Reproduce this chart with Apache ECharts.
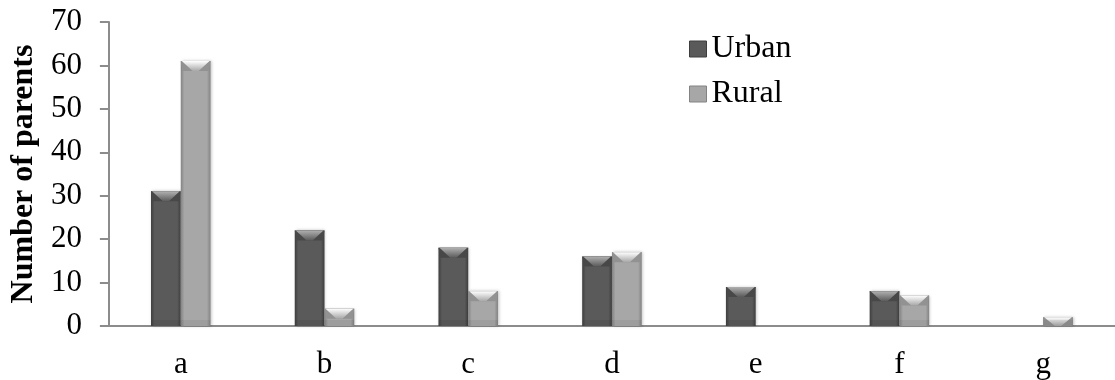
<!DOCTYPE html>
<html>
<head>
<meta charset="utf-8">
<script src="https://cdn.jsdelivr.net/npm/echarts@6/dist/echarts.min.js"></script>
<style>
  html, body { margin: 0; padding: 0; background: #ffffff; }
  #chart { width: 1115px; height: 380px; }
</style>
</head>
<body>
<div id="chart"></div>
<script>
// Parents per response category, by area
const categories = ['a', 'b', 'c', 'd', 'e', 'f', 'g'];
const urbanValues = [31, 22, 18, 16, 9, 8, 0];
const ruralValues = [61, 4, 8, 17, 0, 7, 2];
const yTicks = { min: 0, max: 70, interval: 10 };

const FONT = '"Liberation Serif", "Times New Roman", serif';

// Palette for the bevelled bars: body edge / body centre / top-face light
const shades = {
  Urban: { edge: '#3e3e3e', mid: '#5a5a5a', light: '#b0b0b0', side: '#484848' },
  Rural: { edge: '#838383', mid: '#a7a7a7', light: '#ffffff', side: '#929292' }
};

function bevelBar(side, pal) {
  return function (params, api) {
    const val = api.value(1);
    if (!val) return null;
    const cat = api.value(0);
    const top = api.coord([cat, val]);
    const base = api.coord([cat, 0]);
    const band = api.size([1, 0])[0];
    const w = band * 0.207;
    const x = side < 0 ? top[0] - w : top[0];
    const y = top[1];
    const h = base[1] - top[1];
    const b = Math.min(10, h);
    const cx = x + w / 2;
    const children = [
      {
        type: 'rect',
        shape: { x: x, y: y, width: w, height: h },
        style: {
          fill: new echarts.graphic.LinearGradient(0, 0, 1, 0, [
            { offset: 0, color: pal.edge },
            { offset: 0.12, color: pal.mid },
            { offset: 0.88, color: pal.mid },
            { offset: 1, color: pal.edge }
          ]),
          shadowBlur: 3,
          shadowColor: 'rgba(0,0,0,0.25)',
          shadowOffsetX: 1
        }
      },
      {
        type: 'polygon',
        shape: { points: [[x, y], [x + w, y], [x + w - 2, y + b], [x + 2, y + b]] },
        style: { fill: pal.side }
      },
      {
        type: 'polygon',
        shape: { points: [[x + 1, y], [x + w - 1, y], [cx + 3, y + b], [cx - 3, y + b]] },
        style: {
          fill: new echarts.graphic.LinearGradient(0, 0, 0, 1, [
            { offset: 0, color: pal.light },
            { offset: 1, color: pal.mid }
          ])
        }
      },
      {
        type: 'rect',
        shape: { x: x, y: base[1] - Math.min(6, h), width: w, height: Math.min(6, h) },
        style: { fill: 'rgba(0,0,0,0.06)' }
      }
    ];
    return { type: 'group', children: children };
  };
}

function toData(values) {
  return values.map(function (v, i) { return [i, v]; });
}

const chart = echarts.init(document.getElementById('chart'), null, { renderer: 'canvas' });
chart.setOption({
  animation: false,
  backgroundColor: '#ffffff',
  grid: { left: 107, right: 0, top: 22, bottom: 54, containLabel: false },
  legend: {
    orient: 'vertical',
    left: 684,
    top: 28,
    itemGap: 13,
    itemWidth: 17,
    itemHeight: 16,
    textStyle: { fontFamily: FONT, fontSize: 32, color: '#000' },
    data: [
      { name: 'Urban', icon: 'rect', itemStyle: { color: shades.Urban.mid, borderColor: shades.Urban.edge, borderWidth: 1 } },
      { name: 'Rural', icon: 'rect', itemStyle: { color: shades.Rural.mid, borderColor: shades.Rural.edge, borderWidth: 1 } }
    ]
  },
  xAxis: {
    type: 'category',
    data: categories,
    boundaryGap: true,
    axisLine: { lineStyle: { color: '#8c8c8c', width: 2 } },
    axisTick: { show: false },
    axisLabel: { fontFamily: FONT, fontSize: 31, color: '#000', margin: 23 },
    splitLine: { show: false }
  },
  yAxis: {
    type: 'value',
    min: yTicks.min,
    max: yTicks.max,
    interval: yTicks.interval,
    name: 'Number of parents',
    nameLocation: 'middle',
    nameRotate: 90,
    nameGap: 67,
    nameTextStyle: { fontFamily: FONT, fontSize: 32, fontWeight: 'bold', color: '#000' },
    axisLine: { show: true, lineStyle: { color: '#8c8c8c', width: 2 } },
    axisTick: { show: true, inside: false, length: 9, lineStyle: { color: '#8c8c8c', width: 2 } },
    axisLabel: { fontFamily: FONT, fontSize: 31, color: '#000', margin: 27 },
    splitLine: { show: false }
  },
  series: [
    {
      name: 'Urban',
      type: 'custom',
      renderItem: bevelBar(-1, shades.Urban),
      itemStyle: { color: shades.Urban.mid },
      encode: { x: 0, y: 1 },
      data: toData(urbanValues),
      z: 2
    },
    {
      name: 'Rural',
      type: 'custom',
      renderItem: bevelBar(1, shades.Rural),
      itemStyle: { color: shades.Rural.mid },
      encode: { x: 0, y: 1 },
      data: toData(ruralValues),
      z: 3
    }
  ]
});
</script>
</body>
</html>
